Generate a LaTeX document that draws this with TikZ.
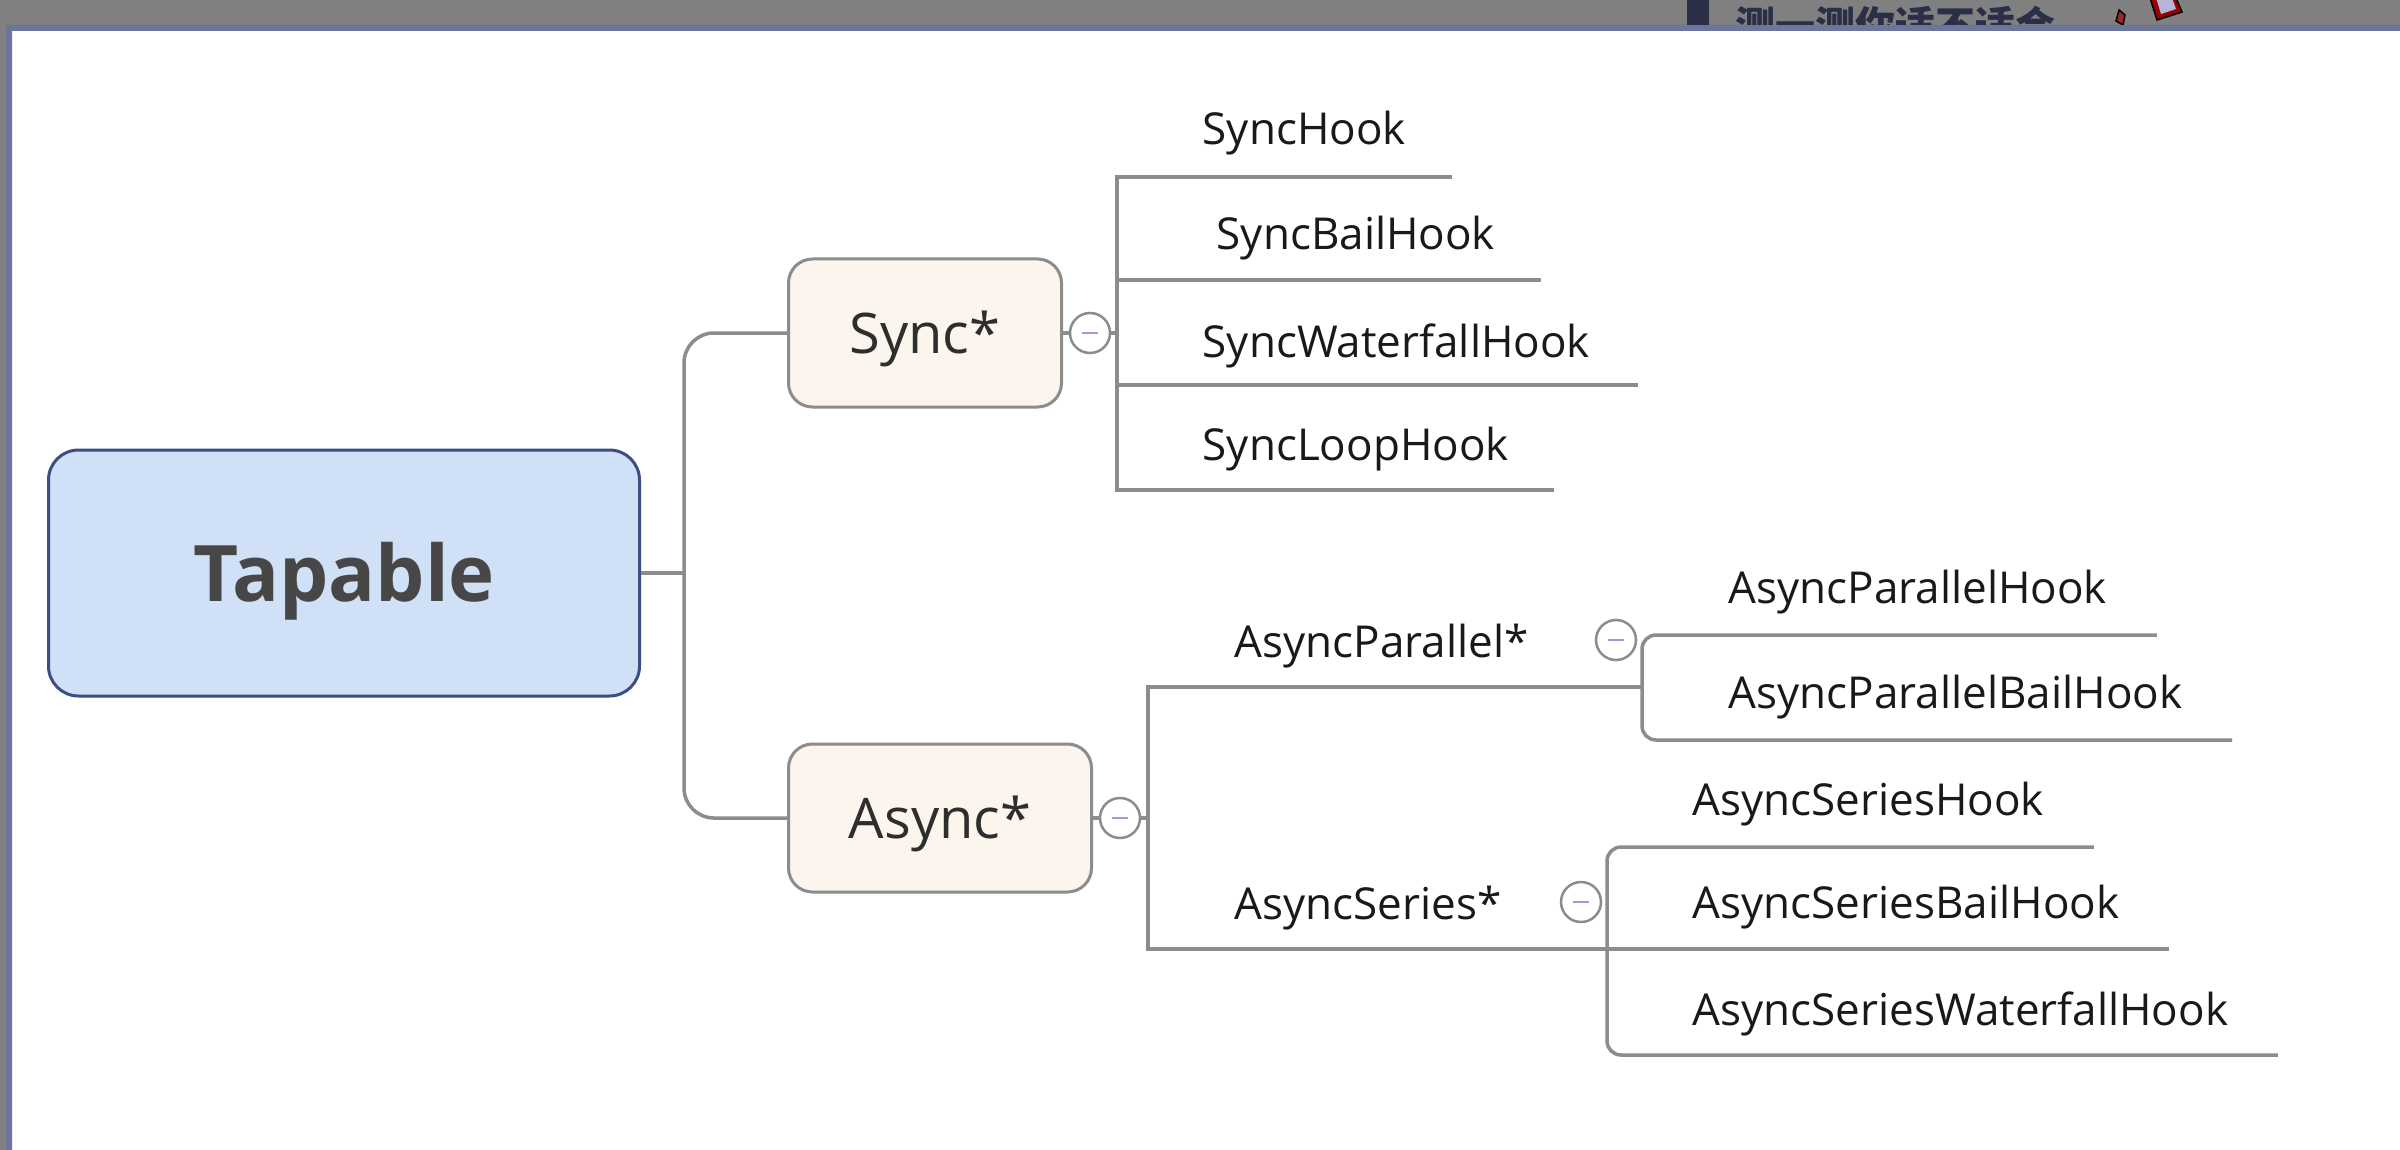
\documentclass[tikz,border=0pt]{standalone}
\usepackage{fontspec}
\setmainfont{Open Sans}
\newfontfamily\cjk{Noto Sans CJK SC}
\usetikzlibrary{calc}
\definecolor{tapfill}{HTML}{CFE0F7}
\definecolor{tapedge}{HTML}{3D4F82}
\definecolor{boxfill}{HTML}{FBF5EE}
\definecolor{linegrey}{HTML}{8C8C8C}
\definecolor{minuscol}{HTML}{9C9CD6}
\definecolor{screengrey}{HTML}{808080}
\definecolor{framecol}{HTML}{6C769A}
\definecolor{navyink}{HTML}{2A2E46}
\begin{document}
\begin{tikzpicture}[x=1pt,y=-1pt,line width=3.5pt,
  link/.style={draw=linegrey,line width=3.5pt},
  root/.style={draw=tapedge,fill=tapfill,line width=3pt,rounded corners=30pt,
    minimum width=591pt,minimum height=246pt,text height=56pt,text depth=0pt,
    font=\fontsize{78}{80}\selectfont\bfseries,text=black!72},
  branch/.style={draw=linegrey,fill=boxfill,line width=3pt,rounded corners=24pt,
    minimum height=148pt,text height=40pt,text depth=0pt,
    font=\fontsize{56}{60}\selectfont,text=black!82},
  leaf/.style={anchor=base west,inner sep=0pt,font=\fontsize{44}{48}\selectfont,text=black!90},
  fold/.style={circle,draw=linegrey,fill=white,line width=2.5pt,minimum size=40pt,inner sep=0pt,
    path picture={\draw[minuscol,line width=2.5pt]
      ([xshift=-8pt]path picture bounding box.center)--([xshift=8pt]path picture bounding box.center);}}]
\path[use as bounding box] (0,0) rectangle (2400,1150);
\fill[white] (0,0) rectangle (2400,1150);
% screen frame
\fill[screengrey] (0,0) rectangle (2400,25) (0,0) rectangle (6,1150);
\fill[framecol] (6,25) rectangle (2400,31) (6,25) rectangle (12,1150);
\begin{scope}
  \clip (1600,0) rectangle (2300,25);
  \fill[navyink] (1687,0) rectangle (1709,30);
  \node[anchor=north west,inner sep=0pt,font=\cjk\bfseries\fontsize{40}{40}\selectfont,text=navyink]
    (banner) at (1734,4) {测一测你适不适合};
  \filldraw[fill=red!55!black!85,draw=black,line width=1.5pt]
    (2119,10) -- (2125,15) -- (2123,25) -- (2116,21) -- cycle;
  \filldraw[fill=red!60!black,draw=black,line width=1.5pt]
    (2150,-2) -- (2157,20) -- (2182,12) -- (2176,-2) -- cycle;
  \fill[gray!70!blue!45] (2156,-2) -- (2161,14) -- (2176,9) -- (2172,-2) -- cycle;
\end{scope}
% main nodes
\node[root] (tapable) at (344,573) {Tapable};
\node[branch,minimum width=273pt] (sync) at (925,333) {Sync*};
\node[branch,minimum width=303pt] (async) at (940,818) {Async*};
\node[fold] (syncfold) at (1090,333) {};
\node[fold] (asyncfold) at (1120,818) {};
\coordinate (tapjoin) at (684,573);
\draw[link] (tapable.east) -- (tapjoin);
\draw[link,rounded corners=30pt] (sync.west) -| (tapjoin) |- (async.west);
% Sync* hooks
\node[leaf] (synchook) at (1201,145) {SyncHook};
\node[leaf] (syncbail) at (1215,250) {SyncBailHook};
\node[leaf] (syncwater) at (1201,357) {SyncWaterfallHook};
\node[leaf] (syncloop) at (1201,460) {SyncLoopHook};
\coordinate (st1) at (1117,177); \coordinate (st2) at (1117,280);
\coordinate (st3) at (1117,385); \coordinate (st4) at (1117,490);
\draw[link] (sync.east) -- (syncfold.west) (syncfold.east) -- (1117,333);
\draw[link] ($(synchook.east |- st1)+(44,0)$) -- (st1) -- (st4) -- ($(syncloop.east |- st4)+(44,0)$);
\draw[link] (st2) -- ($(syncbail.east |- st2)+(44,0)$);
\draw[link] (st3) -- ($(syncwater.east |- st3)+(46,0)$);
% Async* groups
\node[leaf] (apar) at (1233,657) {AsyncParallel*};
\node[leaf] (aser) at (1233,919) {AsyncSeries*};
\node[fold] (aparfold) at (1616,640) {};
\node[fold] (aserfold) at (1581,902) {};
\coordinate (at1) at (1148,687); \coordinate (at2) at (1148,949);
\coordinate (pj) at (1642,687); \coordinate (sj) at (1607,949);
\draw[link] (async.east) -- (asyncfold.west) (asyncfold.east) -- (1148,818);
\draw[link] (pj) -- (at1) -- (at2) -- (sj);
\node[leaf] (aphook) at (1727,603) {AsyncParallelHook};
\node[leaf] (apbail) at (1727,708) {AsyncParallelBailHook};
\coordinate (pt1) at (1642,635); \coordinate (pt2) at (1642,740);
\draw[link,rounded corners=14pt] ($(aphook.east |- pt1)+(48,0)$) -- (pt1) -- (pt2) -- ($(apbail.east |- pt2)+(48,0)$);
\node[leaf] (ashook) at (1691,815) {AsyncSeriesHook};
\node[leaf] (asbail) at (1691,918) {AsyncSeriesBailHook};
\node[leaf] (aswater) at (1691,1025) {AsyncSeriesWaterfallHook};
\coordinate (ss1) at (1607,847); \coordinate (ss3) at (1607,1055);
\draw[link,rounded corners=14pt] ($(ashook.east |- ss1)+(48,0)$) -- (ss1) -- (ss3) -- ($(aswater.east |- ss3)+(48,0)$);
\draw[link] (sj) -- ($(asbail.east |- sj)+(48,0)$);
\end{tikzpicture}
\end{document}
